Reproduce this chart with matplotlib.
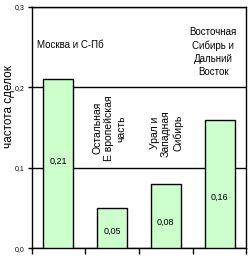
import numpy as np
import matplotlib.pyplot as plt

plt.rcParams['font.family'] = ['Liberation Sans', 'DejaVu Sans']

regions = ['Москва и С-Пб', 'Остальная\nЕ вропейская\nчасть', 'Урал и\nЗападная\nСибирь',
           'Восточная\nСибирь и\nДальний\nВосток']
freq = [0.21, 0.05, 0.08, 0.16]
freq_text = ['0,21', '0,05', '0,08', '0,16']
yticks = [0.0, 0.1, 0.2, 0.3]
ytick_text = ['0,0', '0,1', '0,2', '0,3']

fig = plt.figure(figsize=(2.52, 2.59), dpi=100)
ax = fig.add_axes([0.125, 0.041, 0.853, 0.933])

x = np.arange(len(freq))
ax.bar(x, freq, width=0.56, color='#ccffcc', edgecolor='black', linewidth=1, zorder=3)

ax.set_xlim(-0.5, 3.5)
ax.set_ylim(0, 0.3)
ax.set_yticks(yticks)
ax.set_yticklabels(ytick_text, fontsize=5)
ax.set_xticks(np.arange(-0.5, 4, 1))
ax.set_xticklabels([])
ax.tick_params(axis='y', direction='out', length=3, width=1, pad=2)
ax.tick_params(axis='x', direction='out', length=4, width=1)
ax.grid(axis='y', color='black', linewidth=1, zorder=0)
for s in ax.spines.values():
    s.set_linewidth(1)
ax.set_ylabel('частота сделок', fontsize=8.5, va='center')
ax.yaxis.set_label_coords(-0.105, 0.585)

# value labels inside bars
label_y = [0.108, 0.021, 0.032, 0.064]
for i in range(len(freq)):
    ax.text(x[i], label_y[i], freq_text[i], ha='center', va='center', fontsize=6.5, zorder=4)

# region names
ax.text(0.23, 0.253, regions[0], ha='center', va='center', fontsize=7)
ax.text(0.95, 0.149, regions[1], ha='center', va='center', fontsize=7.5, rotation=90,
        linespacing=1.2)
ax.text(2.01, 0.143, regions[2], ha='center', va='center', fontsize=7.5, rotation=90,
        linespacing=1.2)
ax.text(2.88, 0.244, regions[3], ha='center', va='center', fontsize=7,
        linespacing=1.38)

fig.savefig('out.png', dpi=100)
